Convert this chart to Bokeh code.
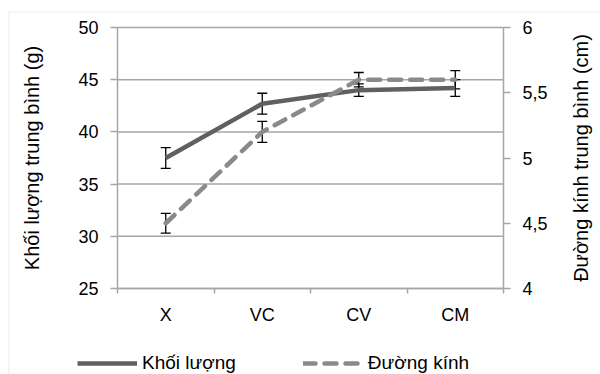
import math
from bokeh.plotting import figure
from bokeh.models import (Range1d, LinearAxis, FixedTicker, Whisker, ColumnDataSource,
                          Legend, LegendItem, TeeHead, BoxAnnotation, Label)
from bokeh.embed import file_html
from bokeh.resources import INLINE

categories = ["X", "VC", "CV", "CM"]
khoi_luong = [37.5, 42.7, 44.0, 44.2]
khoi_luong_err = [1.0, 1.0, 0.6, 0.8]
duong_kinh = [4.5, 5.2, 5.6, 5.6]
duong_kinh_err = [0.075, 0.08, 0.055, 0.07]
left_ticks = [25, 30, 35, 40, 45, 50]
right_ticks = [4, 4.5, 5, 5.5, 6]
right_labels = ["4", "4,5", "5", "5,5", "6"]

FONT = "Liberation Sans"
GRID = "#a6a6a6"
W, H = 600, 374
# plot area in pixels (layout only)
PL, PR, PT, PB = 117, 503, 27, 288

n = len(categories)
xs = [i + 0.5 for i in range(n)]
src = ColumnDataSource(dict(
    x=xs, kl=khoi_luong,
    kl_lo=[v - e for v, e in zip(khoi_luong, khoi_luong_err)],
    kl_hi=[v + e for v, e in zip(khoi_luong, khoi_luong_err)],
    dk=duong_kinh,
    dk_lo=[v - e for v, e in zip(duong_kinh, duong_kinh_err)],
    dk_hi=[v + e for v, e in zip(duong_kinh, duong_kinh_err)],
))

# ranges extended so the whole canvas is the frame
kx = n / (PR - PL)
x0, x1 = -PL * kx, n + (W - PR) * kx
ly0, ly1 = left_ticks[0], left_ticks[-1]
ky = (ly1 - ly0) / (PB - PT)
ry0, ry1 = right_ticks[0], right_ticks[-1]
kr = (ry1 - ry0) / (PB - PT)

p = figure(width=W, height=H, output_backend="svg", toolbar_location=None,
           x_range=Range1d(x0, x1),
           y_range=Range1d(ly0 - (H - PB) * ky, ly1 + PT * ky),
           min_border=0, x_axis_location="below", y_axis_location="left")
p.extra_y_ranges = {"dk": Range1d(ry0 - (H - PB) * kr, ry1 + PT * kr)}
p.outline_line_color = None
p.background_fill_color = "white"
p.border_fill_color = "white"
p.xgrid.grid_line_color = None
p.ygrid.grid_line_color = None

# outer chart border (left and top edges visible)
p.add_layout(BoxAnnotation(left=8.5, right=W + 50, top=H - 11.5, bottom=-50,
                           left_units="screen", right_units="screen",
                           top_units="screen", bottom_units="screen",
                           fill_alpha=0, line_color="#b8b8b8", line_width=1,
                           level="underlay"))

# horizontal gridlines
p.segment(x0=[0] * len(left_ticks), x1=[n] * len(left_ticks),
          y0=left_ticks, y1=left_ticks, line_color=GRID, line_width=1.5,
          level="underlay")

# x axis
xa = p.xaxis[0]
xa.fixed_location = ly0
xa.bounds = (0, n)
xa.ticker = FixedTicker(ticks=xs, minor_ticks=list(range(n + 1)))
xa.major_label_overrides = {x: c for x, c in zip(xs, categories)}
xa.major_tick_out = 0
xa.major_tick_in = 0
xa.minor_tick_out = 5
xa.minor_tick_in = 0
xa.minor_tick_line_color = GRID
xa.minor_tick_line_width = 1.5
xa.axis_line_color = GRID
xa.axis_line_width = 1.5
xa.major_label_standoff = 11
xa.major_label_text_font = FONT
xa.major_label_text_font_size = "18px"
xa.major_label_text_color = "black"

# left axis
ya = p.yaxis[0]
ya.fixed_location = 0
ya.bounds = (ly0, ly1)
ya.ticker = FixedTicker(ticks=left_ticks)
ya.axis_label = "Khối lượng trung bình (g)"
ya.axis_label_text_font = FONT
ya.axis_label_text_font_size = "20px"
ya.axis_label_text_font_style = "normal"
ya.axis_label_text_color = "black"
ya.axis_label_standoff = 32
ya.major_label_text_font = FONT
ya.major_label_text_font_size = "18px"
ya.major_label_text_color = "black"
ya.major_label_standoff = 12
ya.major_tick_out = 7
ya.major_tick_in = 0
ya.minor_tick_out = 0
ya.minor_tick_in = 0
ya.axis_line_color = GRID
ya.axis_line_width = 1.5
ya.major_tick_line_color = GRID
ya.major_tick_line_width = 1.5

# right axis
ra = LinearAxis(y_range_name="dk", ticker=FixedTicker(ticks=right_ticks))
ra.fixed_location = n
ra.bounds = (ry0, ry1)
ra.major_label_overrides = {t: l for t, l in zip(right_ticks, right_labels)}
ra.major_label_text_font = FONT
ra.major_label_text_font_size = "18px"
ra.major_label_text_color = "black"
ra.major_label_standoff = 12
ra.major_tick_out = 7
ra.major_tick_in = 0
ra.minor_tick_out = 0
ra.minor_tick_in = 0
ra.axis_line_color = GRID
ra.axis_line_width = 1.5
ra.major_tick_line_color = GRID
ra.major_tick_line_width = 1.5
p.add_layout(ra, "right")

p.add_layout(Label(x=580, y=H - (PT + PB) / 2, x_units="screen", y_units="screen",
                   text="Đường kính trung bình (cm)", angle=math.pi / 2,
                   text_align="center", text_baseline="middle",
                   text_font=FONT, text_font_size="20px", text_color="black"))

r1 = p.line("x", "kl", source=src, line_color="#606060", line_width=4.5)
r2 = p.line("x", "dk", source=src, y_range_name="dk", line_color="#8a8a8a",
            line_width=4.5, line_dash="12 9", line_cap="round")

w1 = Whisker(base="x", lower="kl_lo", upper="kl_hi", source=src,
             line_color="black", line_width=1.3,
             upper_head=TeeHead(size=10, line_color="black", line_width=1.3),
             lower_head=TeeHead(size=10, line_color="black", line_width=1.3))
w2 = Whisker(base="x", lower="dk_lo", upper="dk_hi", source=src, y_range_name="dk",
             line_color="black", line_width=1.3,
             upper_head=TeeHead(size=10, line_color="black", line_width=1.3),
             lower_head=TeeHead(size=10, line_color="black", line_width=1.3))
p.add_layout(w1)
p.add_layout(w2)

legend = Legend(items=[LegendItem(label="Khối lượng", renderers=[r1]),
                       LegendItem(label="Đường kính", renderers=[r2])],
                orientation="horizontal", location=(77, 0),
                border_line_color=None, background_fill_alpha=0,
                glyph_width=60, glyph_height=20, label_height=20,
                label_standoff=5, spacing=67, padding=0, margin=0,
                label_text_font=FONT, label_text_font_size="19px",
                label_text_color="black")
p.add_layout(legend, "center")

open("out.html", "w").write(file_html(p, INLINE))
